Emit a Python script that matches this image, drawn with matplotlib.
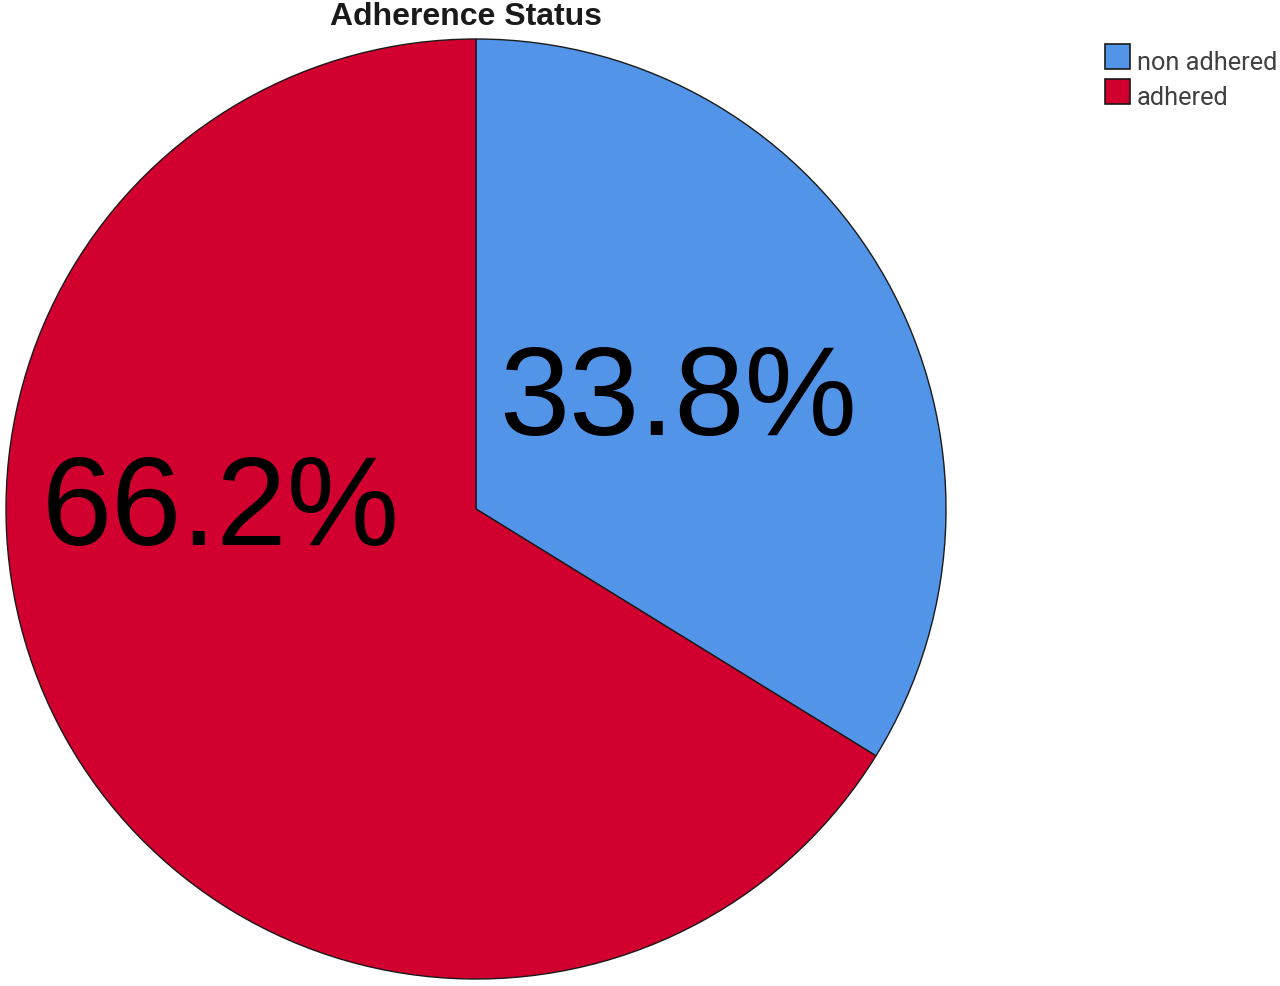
import matplotlib
matplotlib.use("Agg")
import matplotlib.pyplot as plt
import numpy as np

categories = ["non adhered", "adhered"]
percentages = [33.8, 66.2]
colors = ["#5294E8", "#D2002E"]
title = "Adherence Status"

W, H = 1280, 987
fig = plt.figure(figsize=(W / 100, H / 100), dpi=100)
cx, cy, R = 476, 510, 470
ax = fig.add_axes([(cx - R) / W, (H - cy - R) / H, 2 * R / W, 2 * R / H])

wedges, _ = ax.pie(percentages, colors=colors, startangle=90, counterclock=False,
                   radius=1.0, wedgeprops=dict(edgecolor="#1a1a1a", linewidth=1.0))
ax.set_xlim(-1, 1)
ax.set_ylim(-1, 1)
ax.set_aspect("equal")
ax.axis("off")

# label positions (pixel offsets from centre, in units of radius)
label_pos = [((678 - cx) / R, (cy - 402) / R), ((221 - cx) / R, (cy - 512) / R)]
for p, (lx, ly) in zip(percentages, label_pos):
    ax.text(lx, ly, f"{p:.1f}%", ha="center", va="center", fontsize=91,
            family="Liberation Sans", color="black")

fig.text(466 / W, 1 - 17 / H, title, ha="center", va="center", fontsize=23,
         fontweight="bold", family="Liberation Sans", color="#1a1a1a")

# legend
from matplotlib.patches import Rectangle
for i, (lab, col) in enumerate(zip(categories, colors)):
    y0 = 45 + i * 35
    fig.patches.append(Rectangle((1105 / W, 1 - (y0 + 25) / H), 25 / W, 25 / H,
                                 transform=fig.transFigure, facecolor=col,
                                 edgecolor="#1a1a1a", linewidth=1.2))
    fig.text(1137 / W, 1 - (y0 + 18) / H, lab, ha="left", va="center", fontsize=18.3,
             family="Roboto", color="#404040")

fig.savefig("out.png", dpi=100)
